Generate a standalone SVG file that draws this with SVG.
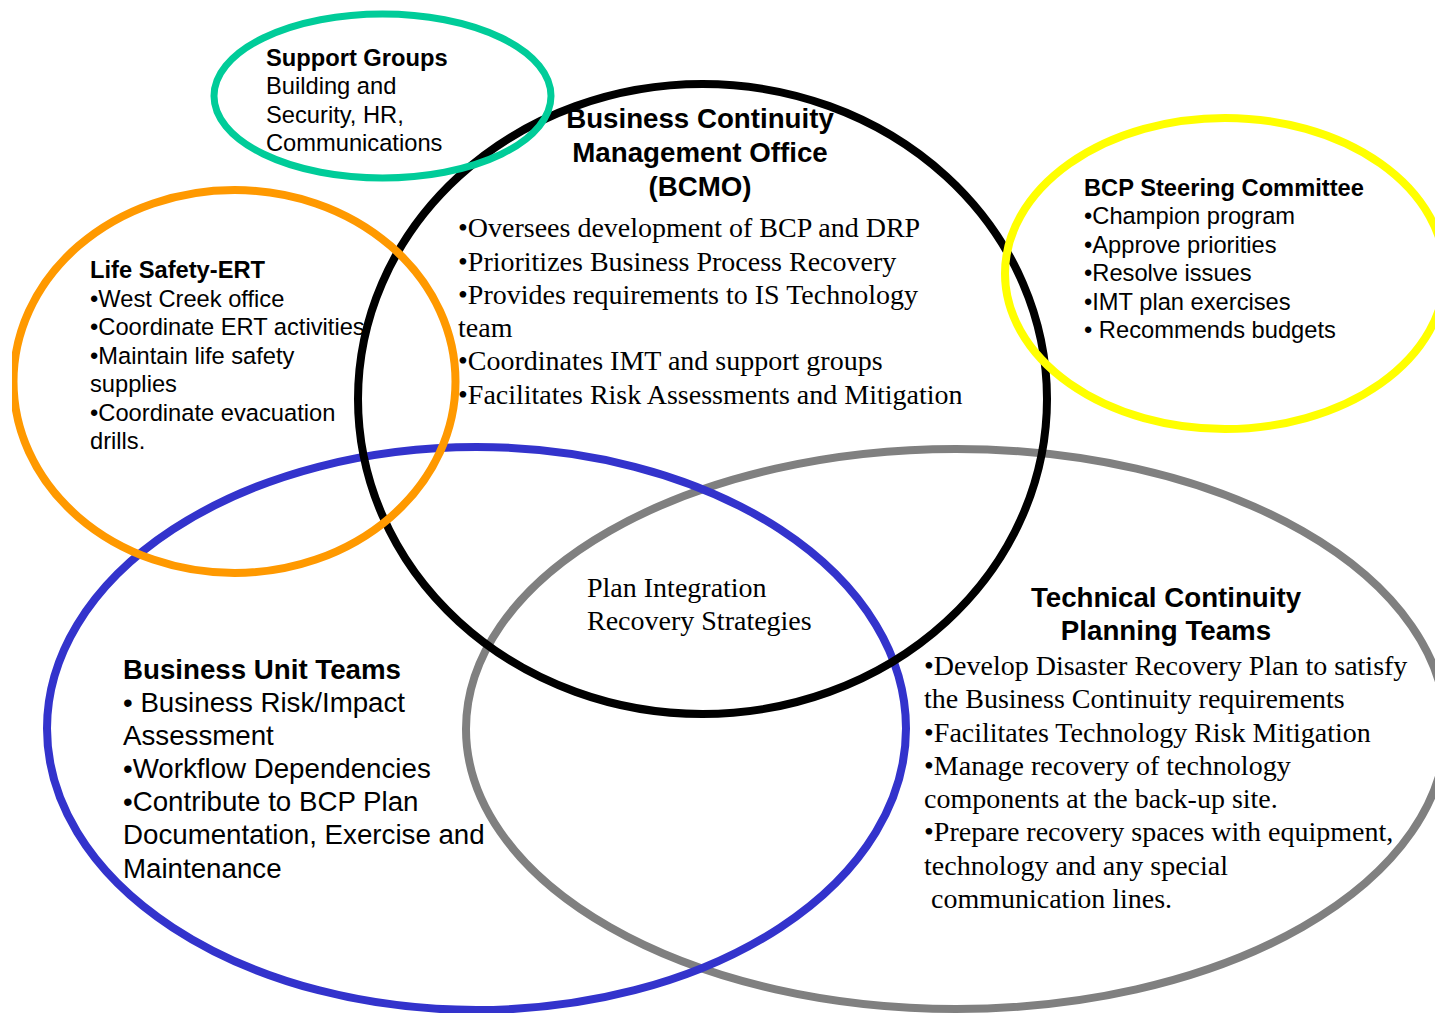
<svg xmlns="http://www.w3.org/2000/svg" width="1435" height="1013" viewBox="0 0 1435 1013">
  <defs>
    <clipPath id="pageLeft">
      <rect x="12" y="0" width="1423" height="1013"/>
    </clipPath>
    <style>
      .ring { fill: none; }
      .sans { font-family: "Liberation Sans", Arial, sans-serif; fill: #000; }
      .serif { font-family: "Liberation Serif", "Times New Roman", serif; fill: #000; font-size: 28px; }
      .small { font-size: 23.7px; }
      .large { font-size: 27.7px; }
      .bold { font-weight: bold; }
      .mid { text-anchor: middle; }
    </style>
  </defs>
  <rect x="0" y="0" width="1435" height="1013" fill="#ffffff"/>

  <!-- Technical Continuity Planning Teams -->
  <g id="technical-teams">
    <ellipse class="ring" cx="956" cy="729" rx="490" ry="280" stroke="#808080" stroke-width="8"/>
    <text class="sans large bold mid" x="1166" y="607">Technical Continuity</text>
    <text class="sans large bold mid" x="1166" y="640">Planning Teams</text>
    <text class="serif" x="924" y="675">•Develop Disaster Recovery Plan to satisfy</text>
    <text class="serif" x="924" y="708">the Business Continuity requirements</text>
    <text class="serif" x="924" y="742">•Facilitates Technology Risk Mitigation</text>
    <text class="serif" x="924" y="775">•Manage recovery of technology</text>
    <text class="serif" x="924" y="808">components at the back-up site.</text>
    <text class="serif" x="924" y="841">•Prepare recovery spaces with equipment,</text>
    <text class="serif" x="924" y="875">technology and any special</text>
    <text class="serif" x="931" y="908">communication lines.</text>
  </g>

  <!-- Business Unit Teams -->
  <g id="business-unit-teams">
    <ellipse class="ring" cx="476.5" cy="728.5" rx="429.5" ry="281.5" stroke="#3333CC" stroke-width="8"/>
    <text class="sans large bold" x="123" y="679">Business Unit Teams</text>
    <text class="sans large" x="123" y="712">• Business Risk/Impact</text>
    <text class="sans large" x="123" y="745">Assessment</text>
    <text class="sans large" x="123" y="778">•Workflow Dependencies</text>
    <text class="sans large" x="123" y="811">•Contribute to BCP Plan</text>
    <text class="sans large" x="123" y="844">Documentation, Exercise and</text>
    <text class="sans large" x="123" y="878">Maintenance</text>
  </g>

  <!-- Business Continuity Management Office -->
  <g id="bcmo">
    <ellipse class="ring" cx="702.5" cy="399" rx="344.5" ry="315" stroke="#000000" stroke-width="8"/>
    <text class="sans large bold mid" x="700" y="128">Business Continuity</text>
    <text class="sans large bold mid" x="700" y="162">Management Office</text>
    <text class="sans large bold mid" x="700" y="196">(BCMO)</text>
    <text class="serif" x="458" y="237">•Oversees development of BCP and DRP</text>
    <text class="serif" x="458" y="271">•Prioritizes Business Process Recovery</text>
    <text class="serif" x="458" y="304">•Provides requirements to IS Technology</text>
    <text class="serif" x="458" y="337">team</text>
    <text class="serif" x="458" y="370">•Coordinates IMT and support groups</text>
    <text class="serif" x="458" y="404">•Facilitates Risk Assessments and Mitigation</text>
  </g>

  <!-- Life Safety / ERT -->
  <g id="life-safety-ert">
    <ellipse class="ring" cx="234.5" cy="381.5" rx="221" ry="191.5" stroke="#FF9900" stroke-width="8" clip-path="url(#pageLeft)"/>
    <text class="sans small bold" x="90" y="278">Life Safety-ERT</text>
    <text class="sans small" x="90" y="307">•West Creek office</text>
    <text class="sans small" x="90" y="335">•Coordinate ERT activities</text>
    <text class="sans small" x="90" y="364">•Maintain life safety</text>
    <text class="sans small" x="90" y="392">supplies</text>
    <text class="sans small" x="90" y="421">•Coordinate evacuation</text>
    <text class="sans small" x="90" y="449">drills.</text>
  </g>

  <!-- Support Groups -->
  <g id="support-groups">
    <ellipse class="ring" cx="382.5" cy="96" rx="168.5" ry="82" stroke="#00CC99" stroke-width="7"/>
    <text class="sans small bold" x="266" y="66">Support Groups</text>
    <text class="sans small" x="266" y="94">Building and</text>
    <text class="sans small" x="266" y="123">Security, HR,</text>
    <text class="sans small" x="266" y="151">Communications</text>
  </g>

  <!-- BCP Steering Committee -->
  <g id="steering-committee">
    <ellipse class="ring" cx="1225" cy="273.5" rx="220" ry="155.5" stroke="#FFFF00" stroke-width="8"/>
    <text class="sans small bold" x="1084" y="196">BCP Steering Committee</text>
    <text class="sans small" x="1084" y="224">•Champion program</text>
    <text class="sans small" x="1084" y="253">•Approve priorities</text>
    <text class="sans small" x="1084" y="281">•Resolve issues</text>
    <text class="sans small" x="1084" y="310">•IMT plan exercises</text>
    <text class="sans small" x="1084" y="338">• Recommends budgets</text>
  </g>

  <!-- Shared area of the rings -->
  <g id="plan-integration">
    <text class="serif" x="587" y="597">Plan Integration</text>
    <text class="serif" x="587" y="630">Recovery Strategies</text>
  </g>
</svg>
